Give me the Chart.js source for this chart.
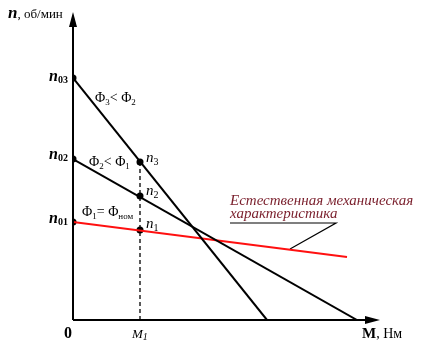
<!DOCTYPE html>
<html>
<head>
<meta charset="utf-8">
<script src="https://cdn.jsdelivr.net/npm/chart.js@4"></script>
<style>
  html, body { margin: 0; padding: 0; background: #fff; }
  #wrap { width: 426px; height: 354px; }
</style>
</head>
<body>
<div id="wrap"><canvas id="grafico" width="426" height="354"></canvas></div>
<script>
// условные единицы (M вправо, n вверх)
const nAtZero = { n01: 98, n02: 161, n03: 242 };
const redEnd = [274, 63];          // конец естественной характеристики
const m02Zero = 284;               // где n02-прямая пересекает ось M
const m03Zero = 194;               // где n03-прямая пересекает ось M
const M1 = 67;
const nAtM1 = { n1: 90, n2: 124, n3: 158 };
const pointer = [[217, 71], [263, 97], [157, 97]];
const xMax = 307, yMax = 308;

const serif = '"Liberation Serif", "Times New Roman", serif';

// текст с индексом: [текст, шрифт, сдвиг вниз]
function drawRich(ctx, x, y, parts, color) {
    ctx.fillStyle = color || '#000';
    ctx.textBaseline = 'alphabetic';
    ctx.textAlign = 'left';
    let cx = x;
    parts.forEach(p => {
        ctx.font = p[1];
        ctx.fillText(p[0], cx, y + (p[2] || 0));
        cx += ctx.measureText(p[0]).width;
    });
}

const axesPlugin = {
    id: 'axesPlugin',
    afterDatasetsDraw(chart) {
        const ctx = chart.ctx;
        const xs = chart.scales.x, ys = chart.scales.y;
        const px = v => xs.getPixelForValue(v);
        const py = v => ys.getPixelForValue(v);
        const x0 = px(0), y0 = py(0);
        ctx.save();
        ctx.strokeStyle = '#000';
        ctx.fillStyle = '#000';
        ctx.lineWidth = 2;
        // оси
        ctx.beginPath();
        ctx.moveTo(x0, y0); ctx.lineTo(x0, py(yMax) + 12);
        ctx.moveTo(x0, y0); ctx.lineTo(px(xMax) - 12, y0);
        ctx.stroke();
        // стрелки
        ctx.beginPath();
        ctx.moveTo(x0, py(yMax)); ctx.lineTo(x0 - 4, py(yMax) + 15); ctx.lineTo(x0 + 4, py(yMax) + 15);
        ctx.closePath(); ctx.fill();
        ctx.beginPath();
        ctx.moveTo(px(xMax), y0); ctx.lineTo(px(xMax) - 15, y0 - 4); ctx.lineTo(px(xMax) - 15, y0 + 4);
        ctx.closePath(); ctx.fill();

        // подписи осей
        drawRich(ctx, 8, 18, [['n', 'bold italic 17px ' + serif], [', об/мин', '13px ' + serif]]);
        drawRich(ctx, 362, 338, [['M', 'bold 15px ' + serif], [', Нм', '14px ' + serif]]);
        drawRich(ctx, 64, 338, [['0', 'bold 16px ' + serif]]);
        drawRich(ctx, 132, 338, [['M', 'italic 13px ' + serif], ['1', 'italic 10px ' + serif, 2]]);

        // n0x
        const nb = 'bold italic 16px ' + serif, sb = 'bold 10px ' + serif;
        drawRich(ctx, 49, py(nAtZero.n03) + 3, [['n', nb], ['03', sb, 2]]);
        drawRich(ctx, 49, py(nAtZero.n02) + 0, [['n', nb], ['02', sb, 2]]);
        drawRich(ctx, 49, py(nAtZero.n01) + 1, [['n', nb], ['01', sb, 2]]);

        // Φ
        const fr = '14px ' + serif, fs = '9px ' + serif;
        drawRich(ctx, 95, 102, [['Φ', fr], ['3', fs, 3], ['< Φ', fr], ['2', fs, 3]]);
        drawRich(ctx, 89, 166, [['Φ', fr], ['2', fs, 3], ['< Φ', fr], ['1', fs, 3]]);
        drawRich(ctx, 82, 216, [['Φ', fr], ['1', fs, 3], ['= Φ', fr], ['ном', fs, 3]]);

        // n1..n3
        const ni = 'italic 15px ' + serif, ns = '10px ' + serif;
        drawRich(ctx, 146, py(nAtM1.n3) + 0, [['n', ni], ['3', ns, 3]]);
        drawRich(ctx, 146, py(nAtM1.n2) - 1, [['n', ni], ['2', ns, 3]]);
        drawRich(ctx, 146, py(nAtM1.n1) - 2, [['n', ni], ['1', ns, 3]]);

        // надпись
        const red = '#7a1f2c';
        drawRich(ctx, 230, 205, [['Естественная механическая', 'italic 15px ' + serif]], red);
        drawRich(ctx, 230, 218, [['характеристика', 'italic 15px ' + serif]], red);
        ctx.restore();
    }
};

const lineDs = (data, color, width, extra) => Object.assign({
    data: data, borderColor: color, backgroundColor: color, borderWidth: width,
    showLine: true, pointRadius: 0, fill: false, tension: 0
}, extra || {});

new Chart(document.getElementById('grafico').getContext('2d'), {
    type: 'scatter',
    data: {
        datasets: [
            lineDs([{ x: M1, y: 0 }, { x: M1, y: nAtM1.n3 }], '#000', 1.3, { borderDash: [4, 3] }),
            lineDs([{ x: 0, y: nAtZero.n03 }, { x: m03Zero, y: 0 }], '#000', 2),
            lineDs([{ x: 0, y: nAtZero.n02 }, { x: m02Zero, y: 0 }], '#000', 2),
            lineDs([{ x: 0, y: nAtZero.n01 }, { x: redEnd[0], y: redEnd[1] }], '#ff1010', 2.2),
            lineDs(pointer.map(p => ({ x: p[0], y: p[1] })), '#000', 1.2),
            lineDs([
                { x: 0, y: nAtZero.n03 }, { x: 0, y: nAtZero.n02 }, { x: 0, y: nAtZero.n01 },
                { x: M1, y: nAtM1.n3 }, { x: M1, y: nAtM1.n2 }, { x: M1, y: nAtM1.n1 }
            ], '#000', 0, { showLine: false, pointRadius: 3.5 })
        ]
    },
    options: {
        responsive: false,
        animation: false,
        layout: { padding: { left: 73, right: 46, top: 12, bottom: 34 } },
        plugins: { legend: { display: false }, tooltip: { enabled: false } },
        scales: {
            x: { type: 'linear', min: 0, max: xMax, display: false },
            y: { type: 'linear', min: 0, max: yMax, display: false }
        }
    },
    plugins: [axesPlugin]
});
</script>
</body>
</html>
